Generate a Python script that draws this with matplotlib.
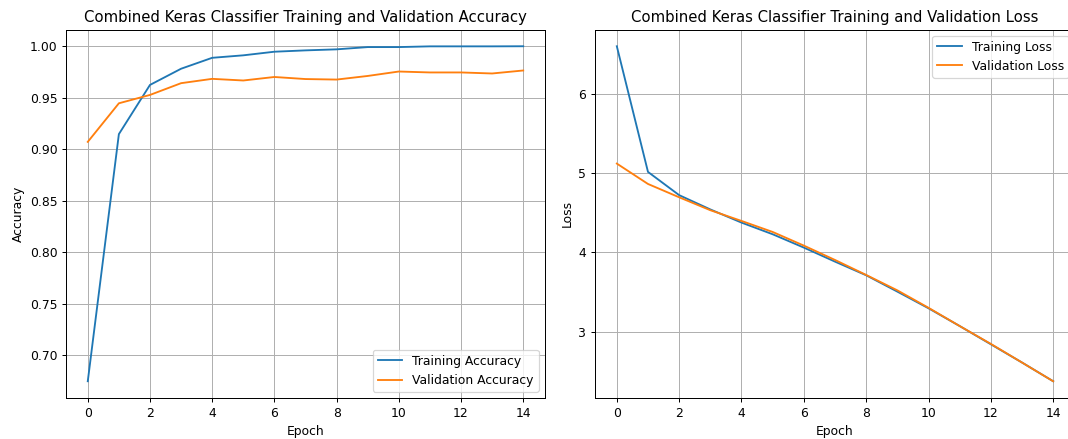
import matplotlib
matplotlib.use("Agg")
import matplotlib.pyplot as plt

epochs = list(range(15))
train_acc = [0.675, 0.9146, 0.9623, 0.978, 0.9886, 0.991, 0.9945, 0.9958, 0.9968,
             0.999, 0.999, 0.9997, 0.9997, 0.9997, 0.9998]
val_acc = [0.9071, 0.9445, 0.9526, 0.964, 0.9682, 0.9666, 0.970, 0.968, 0.9675,
           0.971, 0.9753, 0.9744, 0.9744, 0.9734, 0.9763]
train_loss = [6.597, 5.013, 4.72, 4.54, 4.374, 4.227, 4.059, 3.882, 3.71,
              3.504, 3.294, 3.07, 2.84, 2.61, 2.374]
val_loss = [5.118, 4.861, 4.693, 4.53, 4.395, 4.256, 4.084, 3.903, 3.714,
            3.52, 3.30, 3.07, 2.845, 2.61, 2.374]

DPI = 89
fig = plt.figure(figsize=(1068/DPI, 439/DPI), dpi=DPI)
ax1 = fig.add_axes([66/1068, 1-398/439, 479/1068, 368.5/439])
ax2 = fig.add_axes([595/1068, 1-398/439, 480/1068, 368.5/439])

ax1.plot(epochs, train_acc, label="Training Accuracy")
ax1.plot(epochs, val_acc, label="Validation Accuracy")
ax1.set_title("Combined Keras Classifier Training and Validation Accuracy")
ax1.set_xlabel("Epoch")
ax1.set_ylabel("Accuracy")
ax1.legend(loc="lower right")
ax1.grid(True)

ax2.plot(epochs, train_loss, label="Training Loss")
ax2.plot(epochs, val_loss, label="Validation Loss")
ax2.set_title("Combined Keras Classifier Training and Validation Loss")
ax2.set_xlabel("Epoch")
ax2.set_ylabel("Loss")
ax2.legend(loc="upper right")
ax2.grid(True)

fig.savefig("out.png", dpi=DPI)
